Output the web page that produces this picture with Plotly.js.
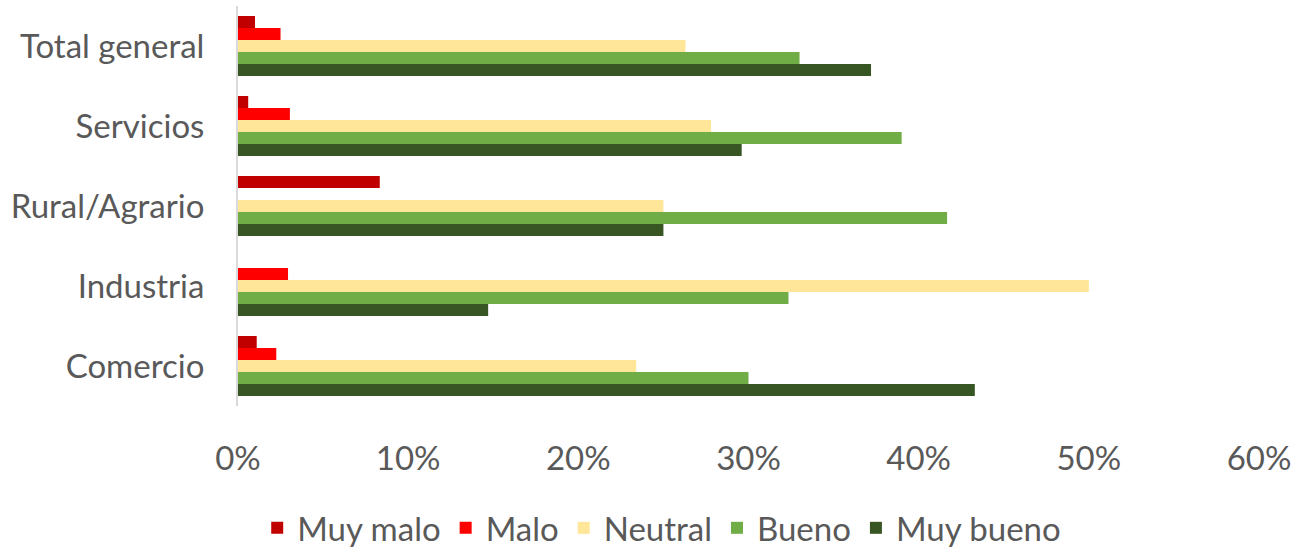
<!DOCTYPE html>
<html>
<head>
<meta charset="utf-8">
<script src="https://cdn.plot.ly/plotly-3.0.1.min.js"></script>
<style>html,body{margin:0;padding:0;background:#fff;}#chart{width:1297px;height:551px;}</style>
</head>
<body>
<div id="chart"></div>
<script>
const categories = ['Total general', 'Servicios', 'Rural/Agrario', 'Industria', 'Comercio'];
const seriesNames = ['Muy malo', 'Malo', 'Neutral', 'Bueno', 'Muy bueno'];
const muyMalo  = [1.0, 0.6, 8.33, 0, 1.1];
const malo     = [2.5, 3.05, 0, 2.94, 2.25];
const neutral  = [26.3, 27.8, 25.0, 50.0, 23.4];
const bueno    = [33.0, 39.0, 41.67, 32.35, 30.0];
const muyBueno = [37.2, 29.6, 25.0, 14.7, 43.3];
const colors = ['#C00000', '#FF0000', '#FFE699', '#70AD47', '#375623'];
const values = [muyMalo, malo, neutral, bueno, muyBueno];

const font = 'Lato, "Open Sans", sans-serif';
const traces = seriesNames.map((n, i) => ({
  type: 'bar', orientation: 'h', name: n,
  y: categories, x: values[i],
  marker: {color: colors[i]},
  hoverinfo: 'x+name'
}));

const layout = {
  width: 1297, height: 551,
  margin: {l: 238, r: 38, t: 6, b: 145},
  paper_bgcolor: '#fff', plot_bgcolor: '#fff',
  barmode: 'group', bargap: 0.25, bargroupgap: 0,
  font: {family: font, color: '#595959', size: 33},
  xaxis: {
    range: [0, 60], dtick: 10, ticksuffix: '%', showgrid: false, zeroline: false,
    showline: false, ticks: '', ticklabelstandoff: 30, automargin: false,
    tickfont: {size: 33, color: '#595959', family: font}
  },
  yaxis: {
    autorange: 'reversed', showline: true, linecolor: '#d9d9d9', linewidth: 2,
    showgrid: false, zeroline: false, ticks: '', ticklabelstandoff: 25, automargin: false,
    tickfont: {size: 33, color: '#595959', family: font}
  },
  showlegend: true,
  legend: {
    orientation: 'h', x: 0.415, xanchor: 'center',
    yref: 'container', y: 0.042, yanchor: 'middle',
    font: {size: 33, color: '#595959', family: font},
    traceorder: 'normal'
  }
};
Plotly.newPlot('chart', traces, layout, {staticPlot: true});
</script>
</body>
</html>
